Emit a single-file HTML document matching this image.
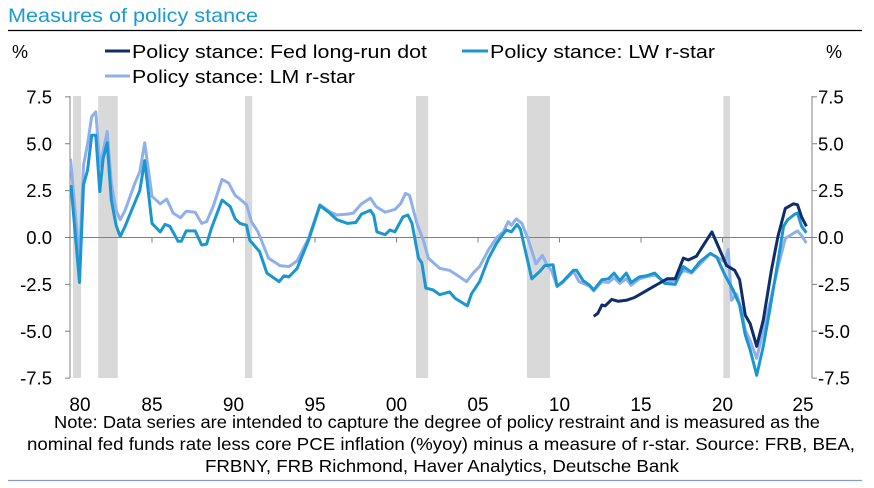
<!DOCTYPE html>
<html><head><meta charset="utf-8"><style>
html,body{margin:0;padding:0;background:#fff;}
svg{display:block;font-family:"Liberation Sans",Arial,sans-serif;}
</style></head><body>
<svg id="chart" width="874" height="488" viewBox="0 0 874 488" xmlns="http://www.w3.org/2000/svg">
<text x="8" y="22" font-size="19.5" fill="#1a9ad6" textLength="250" lengthAdjust="spacingAndGlyphs">Measures of policy stance</text>
<line x1="8" y1="30.5" x2="862" y2="30.5" stroke="#000" stroke-width="1.2"/>
<text x="12" y="58" font-size="18">%</text>
<text x="826" y="58" font-size="18">%</text>
<g>
 <g><line x1="105" y1="51" x2="130" y2="51" stroke="#0d2d6c" stroke-width="3"/><text x="132" y="58" font-size="18.5" textLength="295" lengthAdjust="spacingAndGlyphs">Policy stance: Fed long-run dot</text></g>
 <g><line x1="462" y1="51" x2="488" y2="51" stroke="#1a96d0" stroke-width="3"/><text x="490" y="58" font-size="18.5" textLength="225" lengthAdjust="spacingAndGlyphs">Policy stance: LW r-star</text></g>
 <g><line x1="105" y1="76" x2="130" y2="76" stroke="#8fb0ea" stroke-width="3"/><text x="132" y="83" font-size="18.5" textLength="223" lengthAdjust="spacingAndGlyphs">Policy stance: LM r-star</text></g>
</g>
<g id="bands"></g>
<g id="axes"></g>
<g id="series"></g>
<g font-size="17.5" text-anchor="middle">
<text x="437" y="428" textLength="766" lengthAdjust="spacingAndGlyphs">Note: Data series are intended to capture the degree of policy restraint and is measured as the</text>
<text x="441" y="450" textLength="828" lengthAdjust="spacingAndGlyphs">nominal fed funds rate less core PCE inflation (%yoy) minus a measure of r-star. Source: FRB, BEA,</text>
<text x="442" y="472" textLength="474" lengthAdjust="spacingAndGlyphs">FRBNY, FRB Richmond, Haver Analytics, Deutsche Bank</text>
</g>
<line x1="8" y1="480.5" x2="862" y2="480.5" stroke="#8a9bb5" stroke-width="1.2"/>
</svg>
<script>
const yTicks=[7.5,5.0,2.5,0.0,-2.5,-5.0,-7.5];
const xTickYears=[1980,1985,1990,1995,2000,2005,2010,2015,2020,2025];
const xTickLabels=["80","85","90","95","00","05","10","15","20","25"];
const recessionStarts=[1980.15,1981.7,1990.7,2001.2,2008.0,2020.05];
const recessionEnds=[1980.65,1982.9,1991.15,2001.94,2009.42,2020.46];
const lwYears=[1980.03,1980.55,1980.8,1981.05,1981.3,1981.55,1981.8,1982.0,1982.25,1982.5,1982.8,1983.05,1983.35,1983.75,1984.25,1984.55,1985.0,1985.5,1985.8,1986.1,1986.6,1986.8,1987.1,1987.65,1988.05,1988.35,1988.65,1989.3,1989.8,1990.1,1990.4,1990.8,1991.0,1991.6,1992.05,1992.8,1993.1,1993.4,1993.9,1994.6,1995.3,1995.9,1996.35,1997.0,1997.5,1997.85,1998.4,1998.6,1998.8,1999.3,1999.6,1999.9,2000.4,2000.7,2000.95,2001.35,2001.55,2001.8,2002.25,2002.65,2003.25,2003.6,2004.35,2004.6,2005.1,2005.65,2006.15,2006.55,2006.75,2007.05,2007.4,2007.6,2008.3,2008.8,2009.1,2009.6,2009.85,2010.2,2010.85,2011.05,2011.45,2011.85,2012.1,2012.6,2013.0,2013.35,2013.7,2014.1,2014.4,2014.9,2015.3,2015.85,2016.45,2017.1,2017.6,2018.1,2018.6,2019.25,2019.65,2020.15,2020.65,2021.05,2021.4,2021.7,2022.1,2022.5,2022.9,2023.4,2023.75,2024.0,2024.45,2024.6,2024.85,2025.15];
const lwValues=[2.8,-2.4,2.8,3.6,5.45,5.45,2.45,4.2,5.05,2.0,0.65,0.05,0.6,1.45,2.5,4.1,0.75,0.3,0.7,0.6,-0.2,-0.2,0.35,0.35,-0.4,-0.35,0.5,2.0,1.65,1.0,0.75,0.65,-0.15,-0.75,-1.9,-2.35,-2.05,-2.1,-1.65,-0.15,1.7,1.3,0.95,0.75,0.8,1.25,1.45,1.2,0.3,0.15,0.4,0.3,1.1,1.2,0.75,-1.1,-1.35,-2.7,-2.8,-3.05,-2.9,-3.25,-3.65,-3.0,-2.35,-1.1,-0.3,0.2,0.4,0.3,0.7,0.45,-2.2,-1.8,-1.5,-1.45,-2.6,-2.35,-1.75,-1.75,-2.3,-2.55,-2.8,-2.25,-2.2,-1.9,-2.3,-1.9,-2.4,-2.1,-2.05,-1.9,-2.45,-2.5,-1.55,-1.85,-1.3,-0.85,-1.05,-2.0,-2.8,-3.6,-5.2,-6.0,-7.35,-5.8,-3.85,-1.3,0.6,0.95,1.25,1.3,0.6,0.25];
const lmYears=[1980.0,1980.55,1980.8,1981.05,1981.3,1981.55,1981.8,1982.0,1982.25,1982.5,1982.8,1983.05,1983.35,1983.95,1984.25,1984.55,1985.0,1985.5,1985.9,1986.3,1986.75,1987.1,1987.65,1988.05,1988.35,1988.75,1989.3,1989.7,1990.1,1990.4,1990.8,1991.1,1991.5,1992.15,1992.85,1993.4,1993.9,1994.6,1995.3,1995.95,1996.35,1997.0,1997.35,1997.85,1998.4,1998.75,1999.3,1999.9,2000.25,2000.55,2000.8,2001.25,2001.65,2001.95,2002.65,2003.25,2003.7,2004.3,2004.7,2005.1,2005.65,2006.15,2006.55,2006.85,2007.05,2007.35,2007.7,2008.1,2008.55,2008.95,2009.25,2009.5,2009.85,2010.2,2010.85,2011.2,2011.85,2012.1,2012.6,2013.0,2013.35,2013.7,2014.1,2014.4,2014.9,2015.3,2015.85,2016.45,2017.1,2017.6,2018.1,2018.6,2019.25,2019.75,2020.15,2020.35,2020.55,2020.85,2021.15,2021.4,2021.7,2022.1,2022.5,2022.9,2023.4,2023.85,2024.3,2024.6,2024.85,2025.15];
const lmValues=[4.2,-1.2,3.85,5.0,6.45,6.7,3.8,4.6,5.65,2.9,1.45,0.95,1.45,2.9,3.5,5.05,2.2,1.8,2.05,1.3,1.05,1.4,1.35,0.75,0.85,1.65,3.1,2.9,2.25,2.05,1.75,0.85,0.3,-1.1,-1.5,-1.55,-1.25,-0.05,1.75,1.35,1.2,1.25,1.3,1.8,2.1,1.65,1.35,1.5,1.8,2.35,2.25,0.75,-0.15,-1.1,-1.65,-1.75,-2.0,-2.35,-1.9,-1.55,-0.65,0.0,0.3,0.85,0.65,1.0,0.75,-0.15,-1.4,-0.95,-1.5,-1.75,-2.6,-2.4,-1.8,-2.35,-2.6,-2.85,-2.35,-2.4,-2.15,-2.45,-2.2,-2.55,-2.2,-2.1,-2.0,-2.35,-2.3,-1.75,-1.9,-1.45,-0.85,-1.1,-1.3,-0.65,-3.35,-3.0,-3.8,-4.95,-5.5,-6.45,-4.95,-3.5,-1.6,-0.05,0.2,0.35,0.1,-0.3];
const fedYears=[2012.1,2012.35,2012.6,2012.8,2013.2,2013.6,2014.1,2014.6,2015.0,2015.3,2015.7,2016.2,2016.6,2017.1,2017.6,2017.9,2018.4,2018.8,2019.35,2019.85,2020.25,2020.75,2021.05,2021.4,2021.7,2022.1,2022.5,2023.0,2023.4,2023.85,2024.35,2024.6,2024.85,2025.15];
const fedValues=[-4.2,-4.05,-3.6,-3.65,-3.3,-3.4,-3.35,-3.2,-3.0,-2.85,-2.65,-2.4,-2.2,-2.2,-1.1,-1.2,-1.0,-0.45,0.3,-0.7,-1.5,-1.75,-2.25,-4.15,-4.6,-5.8,-4.4,-1.75,0.05,1.55,1.8,1.75,1.1,0.6];

const NS='http://www.w3.org/2000/svg';
const X0=70.5, PXY=16.3, Y0=237.5, PXV=18.75, TOP=96, BOT=378, LEFT=70, RIGHT=812;
function xs(yr){return X0+(yr-1980)*PXY;}
function ys(v){return Y0-v*PXV;}
function mk(tag,attrs,parent){const e=document.createElementNS(NS,tag);for(const k in attrs)e.setAttribute(k,attrs[k]);parent.appendChild(e);return e;}
const bands=document.getElementById('bands'),axes=document.getElementById('axes'),series=document.getElementById('series');
recessionStarts.forEach((s,i)=>{
 const r=mk('rect',{x:xs(s),y:TOP,width:xs(recessionEnds[i])-xs(s),height:BOT-TOP,fill:'#d9d9d9'},bands);
 
 
});
let l=mk('line',{x1:LEFT,y1:TOP,x2:LEFT,y2:BOT,stroke:'#808080','stroke-width':1},axes);


l=mk('line',{x1:RIGHT,y1:TOP,x2:RIGHT,y2:BOT,stroke:'#808080','stroke-width':1},axes);


l=mk('line',{x1:LEFT,y1:ys(0),x2:RIGHT,y2:ys(0),stroke:'#808080','stroke-width':1},axes);


yTicks.forEach(v=>{
 const y=ys(v);
 mk('line',{x1:LEFT-5,y1:y,x2:LEFT,y2:y,stroke:'#808080'},axes);
 mk('line',{x1:RIGHT,y1:y,x2:RIGHT+5,y2:y,stroke:'#808080'},axes);
 const t1=mk('text',{x:52,y:y+6.5,'font-size':18.5,'text-anchor':'end'},axes);t1.textContent=v.toFixed(1);
 
 
 const t2=mk('text',{x:818,y:y+6.5,'font-size':18.5},axes);t2.textContent=v.toFixed(1);
 
 
});
xTickYears.forEach((yr,i)=>{
 const x=xs(yr);
 if(i>0&&i<xTickYears.length-1)mk('line',{x1:x,y1:ys(0),x2:x,y2:ys(0)+5,stroke:'#808080'},axes);
 const lx=i===0?80:(i===xTickYears.length-1?803:x);
 const t=mk('text',{x:lx,y:411,'font-size':19,'text-anchor':'middle'},axes);t.textContent=xTickLabels[i];
 
 
});
function path(xa,va,color,name){
 const d=xa.map((yr,i)=>(i?'L':'M')+xs(yr).toFixed(1)+','+ys(va[i]).toFixed(1)).join('');
 const p=mk('path',{d:d,fill:'none',stroke:color,'stroke-width':3,'stroke-linejoin':'round'},series);
 
 
}
path(lmYears,lmValues,'#8fb0ea','lm-rstar-line');
path(lwYears,lwValues,'#1a96d0','lw-rstar-line');
path(fedYears,fedValues,'#0d2d6c','fed-long-run-dot-line');
</script>
</body></html>
